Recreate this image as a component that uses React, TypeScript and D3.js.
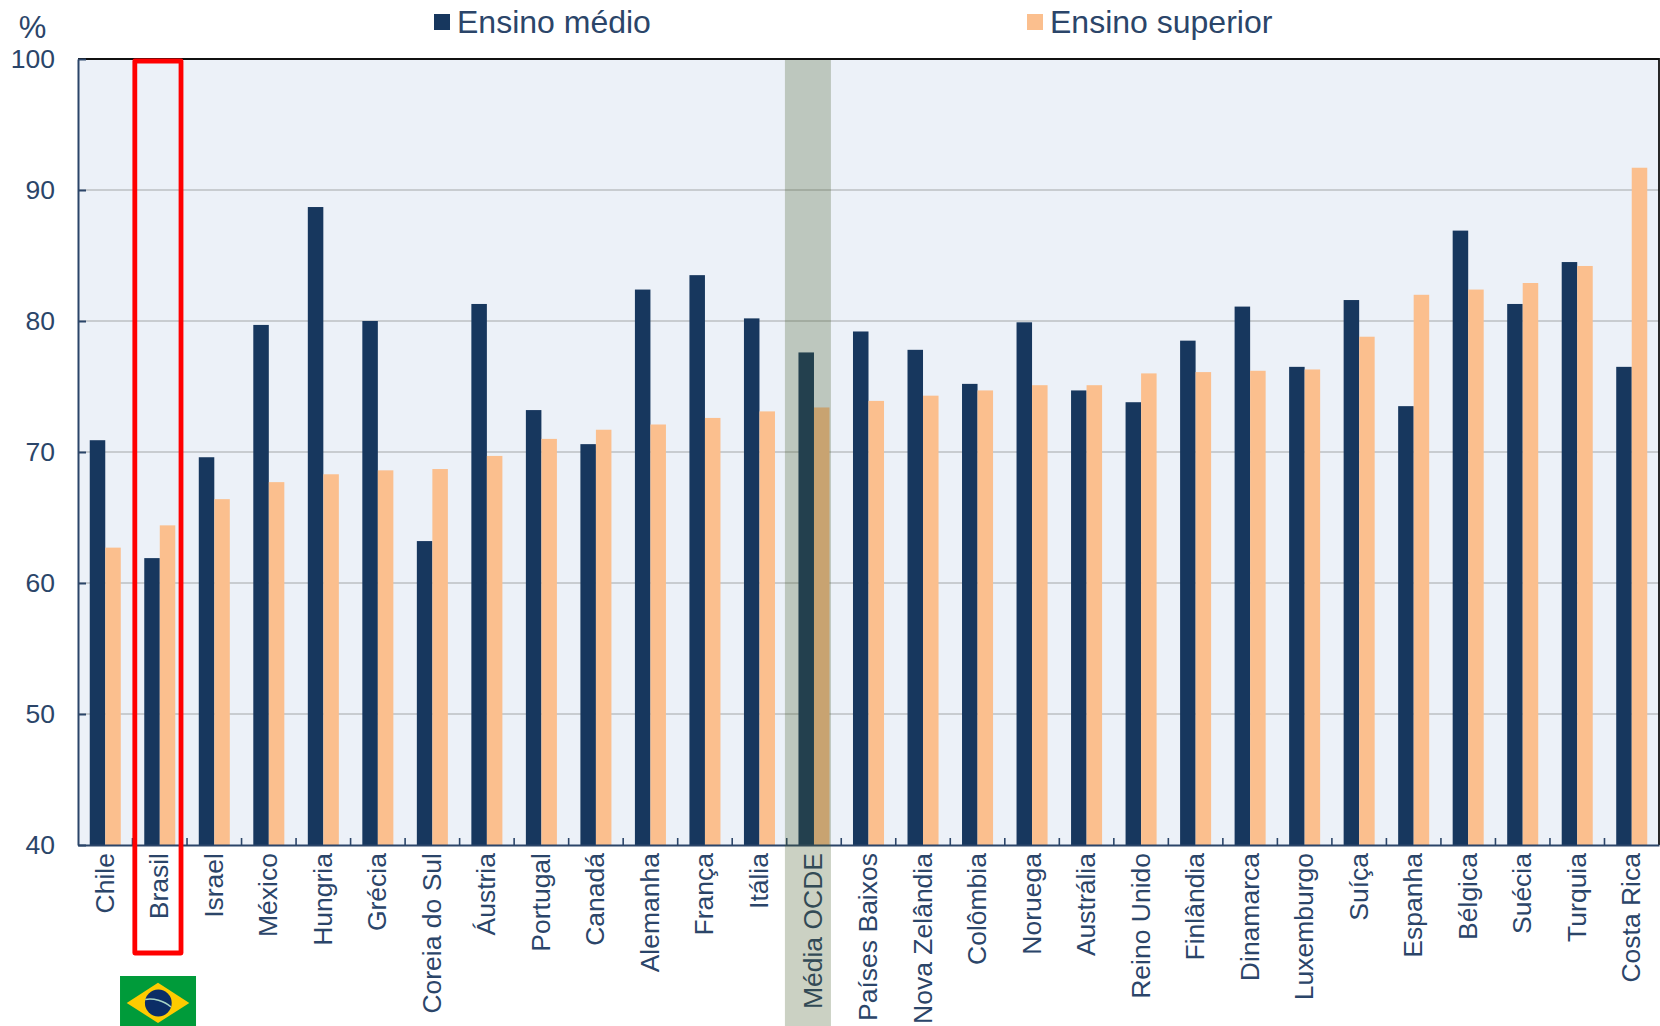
import { useEffect, useRef } from 'react'
import * as d3 from 'd3'

const countries = [
  'Chile', 'Brasil', 'Israel', 'México', 'Hungria', 'Grécia', 'Coreia do Sul', 'Áustria', 'Portugal', 'Canadá',
  'Alemanha', 'França', 'Itália', 'Média OCDE', 'Países Baixos', 'Nova Zelândia', 'Colômbia', 'Noruega', 'Austrália',
  'Reino Unido', 'Finlândia', 'Dinamarca', 'Luxemburgo', 'Suíça', 'Espanha', 'Bélgica', 'Suécia', 'Turquia', 'Costa Rica'
]
const ensinoMedio = [
  70.9, 61.9, 69.6, 79.7, 88.7, 80.0, 63.2, 81.3, 73.2, 70.6,
  82.4, 83.5, 80.2, 77.6, 79.2, 77.8, 75.2, 79.9, 74.7,
  73.8, 78.5, 81.1, 76.5, 81.6, 73.5, 86.9, 81.3, 84.5, 76.5
]
const ensinoSuperior = [
  62.7, 64.4, 66.4, 67.7, 68.3, 68.6, 68.7, 69.7, 71.0, 71.7,
  72.1, 72.6, 73.1, 73.4, 73.9, 74.3, 74.7, 75.1, 75.1,
  76.0, 76.1, 76.2, 76.3, 78.8, 82.0, 82.4, 82.9, 84.2, 91.7
]
const yTicks = [40, 50, 60, 70, 80, 90, 100]
const seriesNames = ['Ensino médio', 'Ensino superior']

const NAVY = '#17375e'
const ORANGE = '#fbbf8e'
const TEXT = '#2b4569'
const FONT = '"Liberation Sans", Arial, sans-serif'

const WIDTH = 1660
const HEIGHT = 1026
const margin = { top: 59, right: 1, bottom: 181, left: 78 }

export default function App() {
  const svgRef = useRef<SVGSVGElement>(null)

  useEffect(() => {
    if (!svgRef.current) return

    const svg = d3.select(svgRef.current)
    svg.selectAll('*').remove()

    const x = d3.scaleBand<string>()
      .domain(countries)
      .range([margin.left, WIDTH - margin.right])
    const sub = d3.scaleBand<string>()
      .domain(seriesNames)
      .range([0, x.bandwidth()])
      .paddingInner(0)
      .paddingOuter(0.757)
    const y = d3.scaleLinear()
      .domain([40, 100])
      .range([HEIGHT - margin.bottom, margin.top])

    // Plot background
    svg.append('rect')
      .attr('x', margin.left)
      .attr('y', margin.top)
      .attr('width', WIDTH - margin.left - margin.right)
      .attr('height', y(40) - y(100))
      .attr('fill', '#ecf1f8')

    // Gridlines
    svg.append('g')
      .selectAll('line')
      .data(yTicks.filter(t => t > 40 && t < 100))
      .enter()
      .append('line')
      .attr('x1', margin.left)
      .attr('x2', WIDTH - margin.right)
      .attr('y1', d => y(d))
      .attr('y2', d => y(d))
      .attr('stroke', '#c8ccd0')
      .attr('stroke-width', 1.8)

    // Bars
    const series = [
      { name: seriesNames[0], values: ensinoMedio, color: NAVY },
      { name: seriesNames[1], values: ensinoSuperior, color: ORANGE }
    ]
    series.forEach(s => {
      svg.append('g')
        .selectAll('rect')
        .data(s.values)
        .enter()
        .append('rect')
        .attr('x', (_, i) => (x(countries[i]) as number) + (sub(s.name) as number))
        .attr('y', d => y(d))
        .attr('width', sub.bandwidth())
        .attr('height', d => y(40) - y(d))
        .attr('fill', s.color)
    })

    // Top and right frame
    svg.append('path')
      .attr('d', `M${margin.left},${margin.top}H${WIDTH - margin.right}V${y(40)}`)
      .attr('fill', 'none')
      .attr('stroke', '#111')
      .attr('stroke-width', 1.8)

    // Left axis, ticks inside
    const yAxis = svg.append('g')
      .attr('transform', `translate(${margin.left},0)`)
      .call(d3.axisLeft(y).tickValues(yTicks).tickSize(-8).tickPadding(23).tickSizeOuter(0))
    yAxis.selectAll('.domain, .tick line').attr('stroke', TEXT).attr('stroke-width', 2)
    yAxis.selectAll('text')
      .attr('fill', TEXT)
      .style('font-family', FONT)
      .style('font-size', '26.5px')

    // Bottom axis, ticks on the band edges pointing up
    const edges = countries.slice(1).map(c => x(c) as number)
    const xAxis = svg.append('g')
      .attr('transform', `translate(0,${y(40)})`)
      .call(d3.axisBottom(x).tickSize(0).tickPadding(0).tickSizeOuter(0))
    xAxis.select('.domain').attr('stroke', TEXT).attr('stroke-width', 2.2)
    xAxis.selectAll('.tick text')
      .attr('fill', TEXT)
      .attr('transform', 'translate(8.5,8) rotate(-90)')
      .attr('x', 0)
      .attr('y', 0)
      .attr('dy', 0)
      .attr('text-anchor', 'end')
      .style('font-family', FONT)
      .style('font-size', '26.5px')
    xAxis.append('g')
      .selectAll('line')
      .data(edges)
      .enter()
      .append('line')
      .attr('x1', d => d)
      .attr('x2', d => d)
      .attr('y1', 0)
      .attr('y2', -7)
      .attr('stroke', TEXT)
      .attr('stroke-width', 1.6)

    // Média OCDE highlight goes over the bars and its label
    const oecd = x('Média OCDE') as number
    svg.append('rect')
      .attr('x', oecd - 1.8)
      .attr('y', margin.top + 1)
      .attr('width', 46)
      .attr('height', HEIGHT - margin.top)
      .attr('fill', 'rgb(70,90,40)')
      .attr('fill-opacity', 0.28)

    // Red box around Brasil
    const brasil = x('Brasil') as number
    svg.append('rect')
      .attr('x', brasil + 2.3)
      .attr('y', 61)
      .attr('width', 46.2)
      .attr('height', 892)
      .attr('fill', 'none')
      .attr('stroke', '#ff0000')
      .attr('stroke-width', 4.8)
      .attr('stroke-linejoin', 'round')

    // Flag
    const flag = svg.append('g').attr('transform', `translate(${brasil + 25.5},1001)`)
    flag.append('rect')
      .attr('x', -38).attr('y', -25).attr('width', 76).attr('height', 50)
      .attr('fill', '#009b3a')
    flag.append('path')
      .attr('d', 'M-31.3,2L0,-18.3L31.3,2L0,22Z')
      .attr('fill', '#fecb00')
    flag.append('circle')
      .attr('cx', 0.3).attr('cy', 2).attr('r', 13.4)
      .attr('fill', '#0b2d66')
    flag.append('path')
      .attr('d', 'M-12.8,-1.5C-5,-3 6,-0.5 13,6')
      .attr('fill', 'none')
      .attr('stroke', '#a8d5c6')
      .attr('stroke-width', 1.5)

    // Legend
    const legendX = [434, 1027]
    seriesNames.forEach((name, i) => {
      svg.append('rect')
        .attr('x', legendX[i])
        .attr('y', 14)
        .attr('width', 16)
        .attr('height', 16)
        .attr('fill', i === 0 ? NAVY : ORANGE)
      svg.append('text')
        .attr('x', legendX[i] + 23)
        .attr('y', 33)
        .attr('fill', TEXT)
        .style('font-family', FONT)
        .style('font-size', '32px')
        .text(name)
    })

    // Unit
    svg.append('text')
      .attr('x', 32.5)
      .attr('y', 38)
      .attr('text-anchor', 'middle')
      .attr('fill', TEXT)
      .style('font-family', FONT)
      .style('font-size', '31px')
      .text('%')
  }, [])

  return (
    <svg
      ref={svgRef}
      width={WIDTH}
      height={HEIGHT}
      style={{ position: 'absolute', left: 0, top: 0, display: 'block', background: '#fff' }}
    />
  )
}
